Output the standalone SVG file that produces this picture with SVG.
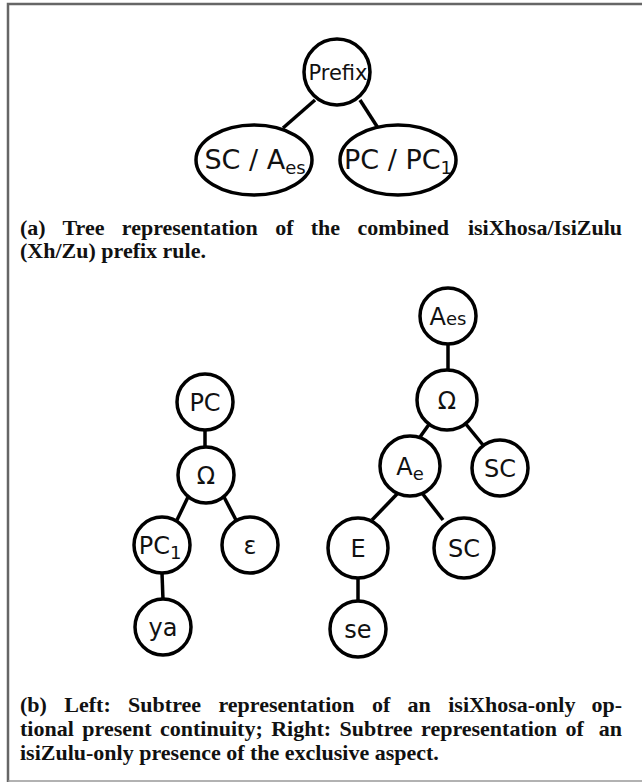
<svg xmlns="http://www.w3.org/2000/svg" width="642" height="782" viewBox="0 0 642 782">
<style>
.n{fill:#fff;stroke:#000;stroke-width:3.5}
.e{stroke:#000;stroke-width:3.5;fill:none}
.t{font-family:"DejaVu Sans",sans-serif;font-size:24px;fill:#111;text-anchor:middle}
.p{font-size:21px}
.big{font-size:27px}
.s{font-size:18px}
.c{font-family:"Liberation Serif",serif;font-weight:bold;font-size:22px;fill:#111}
.r{text-anchor:end}
</style>
<path d="M8 782 V4 H660" fill="none" stroke="#666" stroke-width="2.5"/>
<path d="M8 781 H660" fill="none" stroke="#999" stroke-width="1.5"/>
<g id="connectors">
<line class="e" x1="315" y1="100" x2="283" y2="128"/>
<line class="e" x1="360" y1="100" x2="378" y2="128"/>
<line class="e" x1="205" y1="430" x2="205" y2="448"/>
<line class="e" x1="188" y1="497" x2="177" y2="520"/>
<line class="e" x1="224" y1="497" x2="236" y2="520"/>
<line class="e" x1="162" y1="573" x2="163" y2="600"/>
<line class="e" x1="448" y1="344" x2="448" y2="370"/>
<line class="e" x1="430" y1="423" x2="420" y2="437"/>
<line class="e" x1="465" y1="423" x2="483" y2="445"/>
<line class="e" x1="398" y1="493" x2="372" y2="520"/>
<line class="e" x1="422" y1="493" x2="443" y2="520"/>
<line class="e" x1="358" y1="578" x2="358" y2="601"/>
</g>
<g id="prefix"><circle class="n" cx="337" cy="72" r="33"/><text class="t p" x="338" y="80">Prefix</text></g>
<g id="sc-aes"><ellipse class="n" cx="254" cy="160" rx="58" ry="35"/><text class="t big" x="255" y="169">SC / A<tspan class="s" dy="5">es</tspan></text></g>
<g id="pc-pc1"><ellipse class="n" cx="398" cy="160" rx="58" ry="35"/><text class="t big" x="398" y="169">PC / PC<tspan class="s" dy="5">1</tspan></text></g>
<g id="capa">
<text class="c" x="20" y="235" word-spacing="11.8">(a) Tree representation of the combined</text>
<text class="c r" x="622" y="235">isiXhosa/IsiZulu</text>
<text class="c" x="20" y="258">(Xh/Zu) prefix rule.</text>
</g>
<g id="l-pc"><circle class="n" cx="205" cy="402" r="28"/><text class="t" x="205" y="411">PC</text></g>
<g id="l-omega"><circle class="n" cx="206" cy="475" r="28"/><text class="t" x="206" y="484">Ω</text></g>
<g id="l-pc1"><circle class="n" cx="162" cy="545" r="28"/><text class="t" x="160" y="554">PC<tspan class="s" dy="5">1</tspan></text></g>
<g id="l-eps"><circle class="n" cx="250" cy="545" r="28"/><text class="t" x="250" y="554">ε</text></g>
<g id="l-ya"><circle class="n" cx="163" cy="627" r="28"/><text class="t" x="163" y="636">ya</text></g>
<g id="r-aes"><circle class="n" cx="448" cy="316" r="28"/><text class="t" x="448" y="325">A<tspan class="s">es</tspan></text></g>
<g id="r-omega"><circle class="n" cx="447" cy="400" r="30"/><text class="t" x="447" y="409">Ω</text></g>
<g id="r-ae"><circle class="n" cx="410" cy="466" r="30"/><text class="t" x="410" y="475">A<tspan class="s" dy="5">e</tspan></text></g>
<g id="r-sc1"><circle class="n" cx="500" cy="468" r="28"/><text class="t" x="500" y="477">SC</text></g>
<g id="r-e"><circle class="n" cx="358" cy="548" r="30"/><text class="t" x="358" y="557">E</text></g>
<g id="r-sc2"><circle class="n" cx="464" cy="548" r="30"/><text class="t" x="464" y="557">SC</text></g>
<g id="r-se"><circle class="n" cx="358" cy="629" r="28"/><text class="t" x="358" y="638">se</text></g>
<g id="capb">
<text class="c" x="20" y="712" word-spacing="11.9">(b) Left: Subtree representation of an isiXhosa-only</text>
<text class="c r" x="622" y="712">op-</text>
<text class="c" x="20" y="736" word-spacing="3">tional present continuity; Right: Subtree representation of</text>
<text class="c r" x="622" y="736">an</text>
<text class="c" x="20" y="760">isiZulu-only presence of the exclusive aspect.</text>
</g>
</svg>
